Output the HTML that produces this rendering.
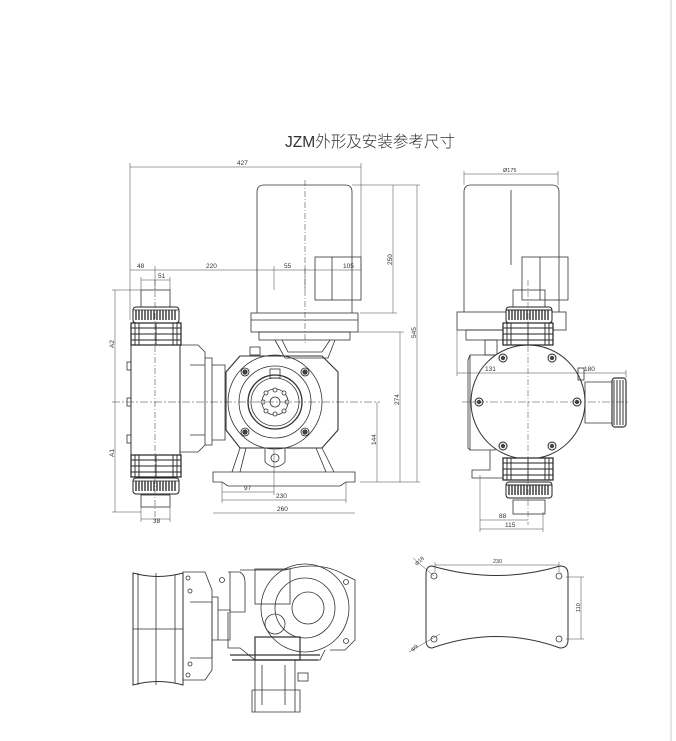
<!DOCTYPE html>
<html><head><meta charset="utf-8"><style>
html,body{margin:0;padding:0;background:#fff}
svg{display:block}
text{font-family:"Liberation Sans",sans-serif;fill:#333}
</style></head><body>
<svg width="676" height="741" viewBox="0 0 676 741" xmlns="http://www.w3.org/2000/svg">
<defs>
<g id="nut">
 <rect x="0" y="0" width="46" height="16" rx="3" fill="#fff" stroke="#222" stroke-width="1"/>
 <path d="M3 3V13M6 3V13M9 3V13M12 3V13M15 3V13M18 3V13M21 3V13M24 3V13M27 3V13M30 3V13M33 3V13M36 3V13M39 3V13M42 3V13" stroke="#222" stroke-width="1.3"/>
 <line x1="0" y1="3" x2="46" y2="3" stroke="#222"/>
</g>
<g id="union">
 <rect x="0" y="0" width="50" height="22" fill="#fff" stroke="#222" stroke-width="1.2"/>
 <path d="M0 5H50M0 11H50M0 17H50M4 0V22M8 0V22M42 0V22M46 0V22M25 0V22" stroke="#222" stroke-width="0.9"/>
</g>
<g id="bolt"><circle r="4" fill="#fff" stroke="#222"/><circle r="2.2" fill="#444"/></g>
</defs>
<line x1="671" y1="0" x2="671" y2="741" stroke="#ddd" stroke-width="1.5"/>
<text x="285" y="147" font-size="16" textLength="170" lengthAdjust="spacingAndGlyphs" style="font-family:'Liberation Sans','Noto Sans CJK SC',sans-serif;font-weight:300">JZM外形及安装参考尺寸</text>

<g fill="none" stroke="#333" stroke-width="0.8">
<path d="M257 313V192Q257 185 264 185H345Q352 185 352 192V313"/>
<line x1="305" y1="180" x2="305" y2="345" stroke-dasharray="6,2,1,2" stroke-width="0.5"/>
<rect x="315" y="257" width="46" height="43"/><line x1="332" y1="257" x2="332" y2="300"/>
<rect x="251" y="313" width="107" height="19"/><line x1="251" y1="320" x2="358" y2="320"/>
<rect x="259" y="332" width="91" height="8"/>
<path d="M275 340L285 358H328L335 340M282 340L288 352H322L330 340"/>
<path d="M240 356L226 372V430L240 448H322L338 430V372L322 356Z" stroke-width="1.1"/>
<rect x="250" y="347" width="10" height="8"/>
<circle cx="275" cy="402" r="47"/><circle cx="275" cy="402" r="36"/><circle cx="275" cy="402" r="27" stroke-width="1.3"/><circle cx="275" cy="402" r="24"/>
<circle cx="275" cy="402" r="13"/><circle cx="275" cy="402" r="5"/>
<g fill="#fff"><circle cx="275" cy="390" r="2"/><circle cx="275" cy="414" r="2"/><circle cx="263" cy="402" r="2"/><circle cx="287" cy="402" r="2"/><circle cx="266" cy="393" r="2"/><circle cx="284" cy="393" r="2"/><circle cx="266" cy="411" r="2"/><circle cx="284" cy="411" r="2"/></g>
<rect x="270" y="369" width="10" height="9"/>
<use href="#bolt" x="245" y="372"/><use href="#bolt" x="305" y="372"/><use href="#bolt" x="245" y="432"/><use href="#bolt" x="305" y="432"/>
<path d="M240 448L232 472M246 448L240 472M322 448L334 472M316 448L326 472"/>
<path d="M265 448V462Q275 472 285 462V448"/><circle cx="275" cy="458" r="4"/>
<path d="M213 472H355V482H346L340 486H228L222 482H213Z"/>
<path d="M180 345H198L205 352V445L198 452H180"/>
<path d="M205 358H212V445H205M212 365H225V440H212"/>
<path d="M190 365H205M190 435H205"/>
<rect x="131" y="345" width="49" height="110" stroke-width="1"/>
<rect x="141" y="290" width="29" height="17"/><rect x="141" y="495" width="29" height="12"/>
<use href="#nut" x="133" y="307"/><use href="#union" x="131" y="323"/>
<use href="#union" x="131" y="455"/><use href="#nut" x="133" y="478"/>
<rect x="127" y="362" width="4" height="8"/><rect x="127" y="398" width="4" height="8"/><rect x="127" y="435" width="4" height="8"/>
<line x1="155" y1="280" x2="155" y2="520" stroke-dasharray="6,2,1,2" stroke-width="0.5"/>
<line x1="112" y1="402" x2="380" y2="402" stroke-dasharray="8,2,2,2" stroke-width="0.5"/>
</g>

<g stroke="#444" stroke-width="0.5" fill="none">
<path d="M130 167H361M130 163V320M361 163V270"/>
<path d="M130 270H361M155 266V290M274 266V290M305 266V290"/>
<path d="M141 280H170M141 277V290M170 277V290"/>
<path d="M115 290V512M112 290H141M112 512H141"/>
<path d="M352 185H420M393 185V313M360 313H397M400 332V482M355 332H404M417 185V482M360 482H420M377 402V482"/>
<path d="M222 492H274M222 500H346M213 513H355M222 482V503M274 448V495M346 482V503"/>
<path d="M141 519H170M141 507V522M170 507V522"/>
</g>
<g font-size="6.5">
<text x="237" y="165">427</text><text x="137" y="268">48</text><text x="206" y="268">220</text><text x="284" y="268">55</text><text x="343" y="268">105</text>
<text x="158" y="278">51</text><text x="153" y="523">38</text>
<text x="244" y="490">97</text><text x="276" y="498">230</text><text x="277" y="511">260</text>
<text transform="translate(392,265) rotate(-90)">250</text><text transform="translate(399,405) rotate(-90)">274</text>
<text transform="translate(416,338) rotate(-90)">545</text><text transform="translate(376,445) rotate(-90)">144</text>
<text transform="translate(114,348) rotate(-90)">A2</text><text transform="translate(114,457) rotate(-90)">A1</text>
</g>

<g fill="none" stroke="#333" stroke-width="0.8">
<path d="M464 312V192Q464 185 471 185H552Q559 185 559 192V312"/>
<line x1="511" y1="190" x2="511" y2="265"/>
<rect x="522" y="257" width="46" height="43"/><line x1="540" y1="257" x2="540" y2="300"/>
<rect x="457" y="312" width="109" height="18"/>
<rect x="466" y="330" width="84" height="10"/>
<rect x="513" y="290" width="32" height="17"/>
<rect x="485" y="340" width="12" height="15"/>
<path d="M470 355H495V450H470Z"/><path d="M470 355L468 360V448L470 450"/>
<circle cx="528" cy="402" r="57" fill="#fff" stroke-width="1"/>
<path d="M585 382H612V423H585Z"/>
<rect x="612" y="378" width="14" height="49" rx="3" stroke-width="1.2"/>
<path d="M614 380V425M617 380V425M620 380V425M623 380V425" stroke-width="1"/>
<rect x="578" y="368" width="6" height="12"/>
<path d="M490 450V470H472V478H505V458"/>
<rect x="513" y="500" width="32" height="14"/>
</g>
<use href="#nut" x="506" y="307"/><use href="#union" x="503" y="323"/>
<use href="#union" x="503" y="458"/><use href="#nut" x="506" y="482"/>
<use href="#bolt" x="503" y="358"/><use href="#bolt" x="552" y="358"/><use href="#bolt" x="479" y="402"/><use href="#bolt" x="577" y="402"/><use href="#bolt" x="503" y="446"/><use href="#bolt" x="552" y="446"/>
<g stroke="#444" stroke-width="0.5" fill="none">
<line x1="528" y1="280" x2="528" y2="525" stroke-dasharray="6,2,1,2"/>
<line x1="462" y1="402" x2="630" y2="402" stroke-dasharray="8,2,2,2"/>
<path d="M464 174H558M464 171V185M558 171V185"/>
<path d="M457 373H626M457 330V376M626 370V378"/>
<path d="M480 520H528M480 529H543M480 475V532M543 512V532"/>
</g>
<g font-size="6.5"><text x="503" y="172" font-size="5.5">Ø175</text><text x="485" y="371">131</text><text x="584" y="371">180</text><text x="499" y="518">88</text><text x="505" y="527">115</text></g>

<g fill="none" stroke="#333" stroke-width="0.8">
<path d="M133 573Q158 580 183 573V685Q158 678 133 685Z" stroke-width="1"/>
<path d="M138 573V685M156 573V685M175 575V683M133 629H183"/>
<path d="M183 572H205L212 590V670L205 680H183Z"/>
<circle cx="188" cy="578" r="2"/><circle cx="188" cy="675" r="2"/><circle cx="190" cy="591" r="2"/><circle cx="190" cy="664" r="2"/>
<path d="M190 602H212V658H190"/>
<path d="M212 597H218V640H212"/>
<path d="M218 610H230V640H218"/>
<path d="M228 572H240Q245 575 245 582V612L230 612V572"/>
<path d="M240 570H285Q320 560 345 575L355 580V640L345 650H330"/>
<circle cx="305" cy="608" r="44"/><circle cx="305" cy="608" r="30"/>
<circle cx="308" cy="608" r="16"/><circle cx="275" cy="624" r="10"/>
<rect x="255" y="569" width="35" height="35"/>
<circle cx="346" cy="582" r="2.5"/><circle cx="346" cy="641" r="2.5"/><circle cx="222" cy="580" r="2.5"/>
<path d="M228 612V648H240L255 660H320L325 650"/>
<path d="M255 637H300V660H255Z" stroke-width="1.2"/>
<path d="M230 655H320M232 660H318" stroke-width="1.3"/>
<path d="M255 660V712H295V660M262 665V705M285 665V705M252 690H300V712H252Z"/>
<rect x="298" y="673" width="10" height="8"/>
<path d="M432 566Q497 585 560 566Q568 566 568 574V640Q568 648 560 648Q497 625 432 648Q426 648 426 640V574Q426 566 432 566Z" stroke-width="1"/>
<circle cx="434" cy="576" r="3"/><circle cx="559" cy="576" r="3"/><circle cx="434" cy="639" r="3"/><circle cx="559" cy="639" r="3"/>
</g>
<g stroke="#444" stroke-width="0.5" fill="none">
<path d="M435 565H559M435 562V572M559 562V572"/>
<path d="M581 577V639M566 577H584M566 639H584"/>
<path d="M413 558L434 576M409 652L440 634"/>
</g>
<g font-size="5.5">
<text x="493" y="563">230</text>
<text transform="translate(580,612) rotate(-90)">110</text>
<text transform="translate(417,566) rotate(-45)">Φ18</text>
<text transform="translate(413,652) rotate(-45)">Φ9</text>
</g>
</svg>
</body></html>
